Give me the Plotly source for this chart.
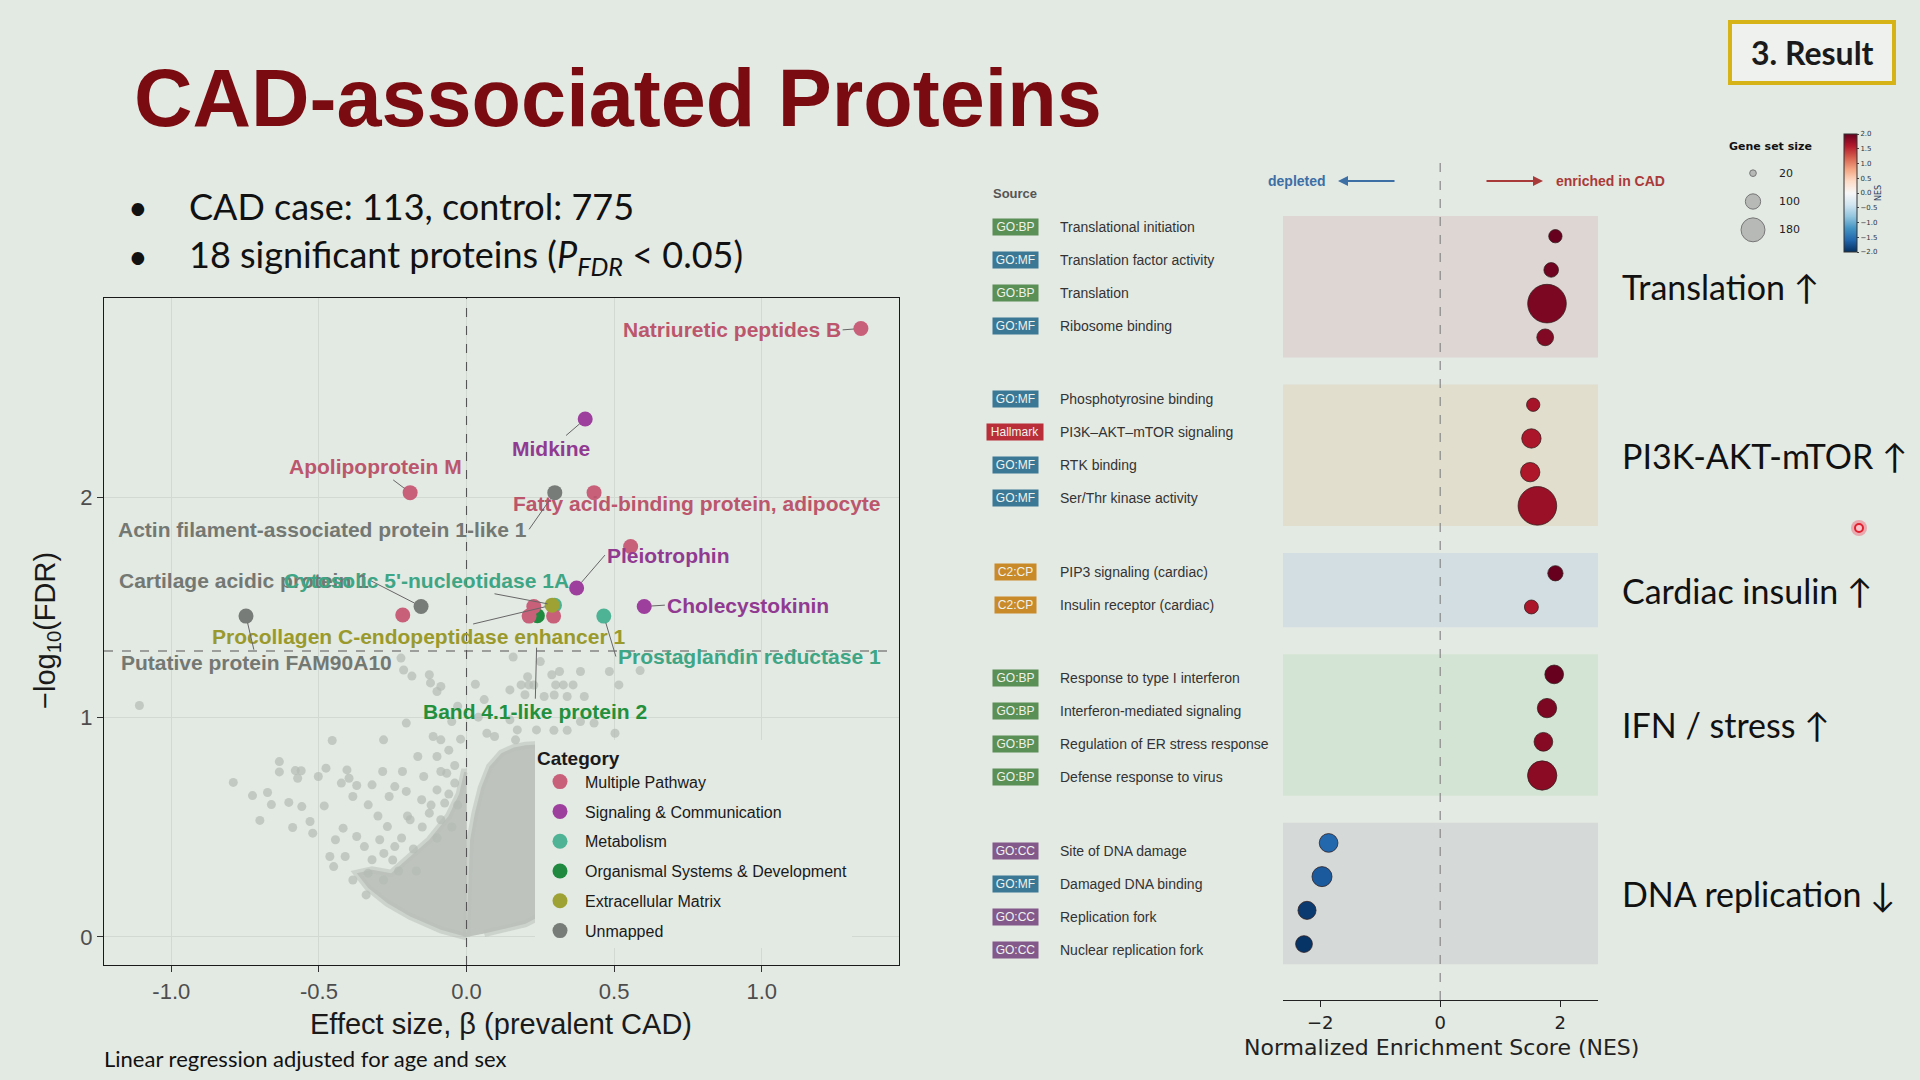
import plotly.graph_objects as go

W, H = 1920, 1080
BG = "#e3e9e3"

# ---------------- volcano plot data ----------------
categories = ["Multiple Pathway", "Signaling & Communication", "Metabolism",
              "Organismal Systems & Development", "Extracellular Matrix", "Unmapped"]
cat_colors = ["#c8607a", "#9d3f9d", "#4db394", "#1f8a3f", "#9ea234", "#787c78"]
cat_text_colors = ["#bb566d", "#913a91", "#3ea585", "#22903c", "#9a9a2c", "#737873"]
draw_order = [3, 2, 0, 1, 4, 5]  # which category is painted first

sig_protein = ["Natriuretic peptides B", "Apolipoprotein M",
               "Fatty acid-binding protein, adipocyte", "", "", "", "", "",
               "Midkine", "Pleiotrophin", "Cholecystokinin",
               "Cytosolic 5'-nucleotidase 1A", "Prostaglandin reductase 1",
               "Band 4.1-like protein 2",
               "Procollagen C-endopeptidase enhancer 1",
               "Actin filament-associated protein 1-like 1",
               "Cartilage acidic protein 1", "Putative protein FAM90A10"]
sig_beta = [1.336, -0.191, 0.432, 0.556, 0.228, 0.212, 0.295, -0.216,
            0.402, 0.373, 0.602, 0.298, 0.465, 0.240, 0.290, 0.299, -0.154, -0.747]
sig_logfdr = [2.769, 2.022, 2.022, 1.777, 1.504, 1.460, 1.460, 1.465,
              2.357, 1.588, 1.504, 1.510, 1.460, 1.462, 1.510, 2.022, 1.504, 1.460]
sig_category = ["Multiple Pathway"] * 8 + ["Signaling & Communication"] * 3 + \
               ["Metabolism"] * 2 + ["Organismal Systems & Development"] + \
               ["Extracellular Matrix"] + ["Unmapped"] * 3

# non-significant proteins: sparse points
bg_beta = [-1.108, -0.790, -0.725, -0.674, -0.661, -0.700, -0.634, -0.634, -0.602, -0.558,
           -0.589, -0.580, -0.560, -0.572, -0.530, -0.521, -0.502, -0.476, -0.482, -0.455,
           -0.444, -0.424, -0.405, -0.398, -0.418, -0.385, -0.372, -0.333, -0.320, -0.281,
           -0.284, -0.262, -0.243, -0.217, -0.204, -0.204, -0.222, -0.213, -0.185, -0.126,
           -0.122, -0.100, -0.087, -0.113, -0.087, -0.165, -0.100, -0.145, -0.087, -0.067,
           -0.191, -0.152, -0.126, -0.100, -0.074, -0.087, -0.372, -0.411, -0.346, -0.320,
           -0.333, -0.294, -0.268, -0.243, -0.385, -0.340, -0.281, -0.463, -0.450, -0.050,
           -0.030, -0.060, -0.040, -0.020, -0.250, -0.220, -0.180, -0.150, -0.120, -0.100,
           -0.060, -0.040, -0.030, -0.200, -0.280, -0.230, -0.170, -0.300, -0.050,
           0.158, 0.250, 0.315, 0.289, 0.386, 0.484, 0.516, 0.588, 0.185, 0.211,
           0.302, 0.328, 0.361, 0.147, 0.198, 0.263, 0.341, 0.399, 0.147, 0.172,
           0.237, 0.296, 0.341, 0.386, 0.432, 0.503, 0.166, 0.095, 0.069, 0.040,
           0.060, 0.030, 0.207, 0.228, 0.297]
bg_logfdr = [1.053, 0.703, 0.643, 0.657, 0.602, 0.530, 0.798, 0.751, 0.612, 0.593,
             0.498, 0.757, 0.756, 0.722, 0.525, 0.472, 0.730, 0.768, 0.596, 0.894,
             0.442, 0.700, 0.760, 0.722, 0.495, 0.639, 0.689, 0.601, 0.692, 0.897,
             0.753, 0.639, 0.684, 0.753, 0.973, 0.662, 1.269, 1.215, 1.187, 1.193,
             1.156, 1.117, 1.140, 0.912, 0.897, 0.821, 0.821, 0.730, 0.753, 0.745,
             0.533, 0.624, 0.563, 0.669, 0.609, 0.533, 0.457, 0.366, 0.411, 0.351,
             0.290, 0.442, 0.502, 0.411, 0.259, 0.191, 0.259, 0.366, 0.320, 0.980,
             1.050, 0.850, 0.700, 0.900, 0.350, 0.450, 0.400, 0.500, 0.600, 0.450,
             0.650, 0.780, 0.600, 0.550, 0.380, 0.300, 0.300, 0.550, 0.500,
             1.274, 1.253, 1.208, 1.193, 1.208, 1.208, 1.147, 1.212, 1.147, 1.147,
             1.147, 1.147, 1.147, 1.124, 1.102, 1.094, 1.094, 1.094, 0.988, 0.942,
             0.942, 0.940, 0.940, 0.980, 0.973, 0.927, 0.897, 0.912, 0.927, 1.000,
             1.080, 1.150, 1.184, 1.146, 1.101]

# outline of the dense, overlapping cloud near beta = 0
core_left_beta = [0.0, -0.087, -0.191, -0.268, -0.333, -0.372, -0.320, -0.255,
                  -0.191, -0.126, -0.061, -0.025, -0.008, 0.0]
core_left_logfdr = [0.0, 0.032, 0.093, 0.153, 0.222, 0.290, 0.305, 0.290,
                    0.366, 0.442, 0.550, 0.650, 0.750, 0.750]
core_right_beta = [0.0, 0.003, 0.007, 0.012, 0.028, 0.050, 0.078, 0.118, 0.160,
                   0.200, 0.300, 0.400, 0.400, 0.200, 0.060]
core_right_logfdr = [0.0, 0.140, 0.290, 0.440, 0.560, 0.680, 0.775, 0.836, 0.862,
                     0.872, 0.880, 0.700, 0.200, 0.060, 0.015]

x_tick_vals = [-1.0, -0.5, 0.0, 0.5, 1.0]
x_tick_text = ["-1.0", "-0.5", "0.0", "0.5", "1.0"]
y_tick_vals = [0, 1, 2]
fdr_threshold = 1.301  # -log10(0.05)

# ---------------- GSEA data ----------------
gs_term = ["Translational initiation", "Translation factor activity", "Translation",
           "Ribosome binding", "Phosphotyrosine binding", "PI3K–AKT–mTOR signaling",
           "RTK binding", "Ser/Thr kinase activity", "PIP3 signaling (cardiac)",
           "Insulin receptor (cardiac)", "Response to type I interferon",
           "Interferon-mediated signaling", "Regulation of ER stress response",
           "Defense response to virus", "Site of DNA damage", "Damaged DNA binding",
           "Replication fork", "Nuclear replication fork"]
gs_source = ["GO:BP", "GO:MF", "GO:BP", "GO:MF", "GO:MF", "Hallmark", "GO:MF", "GO:MF",
             "C2:CP", "C2:CP", "GO:BP", "GO:BP", "GO:BP", "GO:BP",
             "GO:CC", "GO:MF", "GO:CC", "GO:CC"]
gs_nes = [1.92, 1.85, 1.78, 1.75, 1.55, 1.52, 1.50, 1.62, 1.92, 1.52,
          1.90, 1.78, 1.72, 1.70, -1.86, -1.97, -2.22, -2.27]
gs_size = [20, 26, 137, 36, 20, 48, 48, 137, 29, 23, 45, 48, 45, 94, 45, 51, 42, 36]
gs_group = [0, 0, 0, 0, 1, 1, 1, 1, 2, 2, 3, 3, 3, 3, 4, 4, 4, 4]
group_label = ["Translation ↑", "PI3K-AKT-mTOR ↑", "Cardiac insulin ↑",
               "IFN / stress ↑", "DNA replication ↓"]
size_legend_vals = [20, 100, 180]
cbar_ticks = [-2.0, -1.5, -1.0, -0.5, 0.0, 0.5, 1.0, 1.5, 2.0]
nes_ticks = [-2, 0, 2]

source_colors = {"GO:BP": "#5a8f55", "GO:MF": "#3a7896", "Hallmark": "#b92e38",
                 "C2:CP": "#c98a2a", "GO:CC": "#83598b"}
badge_width = {"GO:BP": 43, "GO:MF": 43, "GO:CC": 43, "Hallmark": 54, "C2:CP": 39}
band_colors = ["#ddd6d3", "#e1decd", "#d3dee2", "#d4e4d4", "#d5d9d8"]

RDBU_R = [[0.0, "#053061"], [0.1, "#2166ac"], [0.2, "#4393c3"], [0.3, "#92c5de"],
          [0.4, "#d1e5f0"], [0.5, "#f7f7f7"], [0.6, "#fddbc7"], [0.7, "#f4a582"],
          [0.8, "#d6604d"], [0.9, "#b2182b"], [1.0, "#67001f"]]


def gene_set_diameter(v):
    return 0.108 * v + 4.5


def px(x):
    return x / W


def py(y):
    return 1 - y / H


rows = [i + g for i, g in enumerate(gs_group)]
# the term list on the left was laid out on its own grid (pixels from the top)
label_rows_px = [226.5 + 33.06 * i + 40.4 * g for i, g in enumerate(gs_group)]

fig = go.Figure()

# ---------- volcano ----------
for bx, by in [(core_left_beta, core_left_logfdr), (core_right_beta, core_right_logfdr)]:
    fig.add_trace(go.Scatter(x=bx, y=by, mode="lines", fill="toself",
                             line=dict(color="rgba(186,191,186,0.55)", width=7),
                             fillcolor="rgba(188,193,188,0.95)",
                             hoverinfo="skip", showlegend=False))
fig.add_trace(go.Scatter(x=bg_beta, y=bg_logfdr, mode="markers",
                         marker=dict(size=9, color="rgba(180,186,180,0.7)"),
                         hoverinfo="skip", showlegend=False))

for k in draw_order:
    cat, col = categories[k], cat_colors[k]
    idx = [i for i, c in enumerate(sig_category) if c == cat]
    fig.add_trace(go.Scatter(
        x=[sig_beta[i] for i in idx], y=[sig_logfdr[i] for i in idx],
        mode="markers", name=cat, legendgroup=cat, legendrank=k + 1,
        marker=dict(size=15, color=col, opacity=1),
        text=[sig_protein[i] for i in idx], hoverinfo="text"))

# label placement (x, y of the label anchor, anchored side, gap at the point end)
label_pos = {
    "Cartilage acidic protein 1": (-0.324, 1.621, "right", 7),
    "Natriuretic peptides B": (1.274, 2.763, "right", 7),
    "Apolipoprotein M": (-0.307, 2.139, "center", 7),
    "Fatty acid-binding protein, adipocyte": (0.780, 1.972, "center", 7),
    "Midkine": (0.286, 2.223, "center", 7),
    "Pleiotrophin": (0.469, 1.738, "left", 7),
    "Cholecystokinin": (0.672, 1.510, "left", 7),
    "Cytosolic 5'-nucleotidase 1A": (-0.137, 1.621, "center", 7),
    "Prostaglandin reductase 1": (0.506, 1.276, "left", 7),
    "Band 4.1-like protein 2": (0.232, 1.025, "center", 32),
    "Procollagen C-endopeptidase enhancer 1": (-0.162, 1.365, "center", 7),
    "Actin filament-associated protein 1-like 1": (0.212, 1.855, "right", 7),
    "Putative protein FAM90A10": (-0.710, 1.248, "center", 7),
}

annotations = []
for name, (lx, ly, anc, gap) in label_pos.items():
    i = sig_protein.index(name)
    tcol = cat_text_colors[categories.index(sig_category[i])]
    annotations.append(dict(
        x=sig_beta[i], y=sig_logfdr[i], xref="x", yref="y",
        ax=lx, ay=ly, axref="x", ayref="y", xanchor=anc, yanchor="middle",
        text=name, showarrow=True, arrowhead=0, arrowwidth=1, arrowcolor="#666",
        standoff=gap, font=dict(family="Liberation Sans", size=21, color=tcol,
                                weight="bold")))

shapes = [
    dict(type="line", xref="x", yref="y domain", x0=0, x1=0, y0=0, y1=1,
         line=dict(color="#555", width=1.1, dash="dash"), layer="above"),
    dict(type="line", xref="x domain", yref="y", x0=0, x1=0.99, y0=fdr_threshold,
         y1=fdr_threshold, line=dict(color="#555", width=1.1, dash="dash"), layer="above"),
]

# ---------- GSEA ----------
for g in range(len(group_label)):
    r = [rows[i] for i in range(len(rows)) if gs_group[i] == g]
    shapes.append(dict(type="rect", xref="x2 domain", yref="y2", x0=0, x1=1,
                       y0=min(r) - 0.6, y1=max(r) + 0.6, fillcolor=band_colors[g],
                       line=dict(width=0), layer="below"))
    annotations.append(dict(x=px(1620), y=sum(r) / len(r), xref="paper", yref="y2",
                            xanchor="left", yanchor="middle", showarrow=False,
                            text=group_label[g],
                            font=dict(family="Lato", size=34, color="#111")))
shapes.append(dict(type="line", xref="x2", yref="y2 domain", x0=0, x1=0, y0=0, y1=1,
                   line=dict(color="#888", width=1.2, dash="dash"), layer="above"))

fig.add_trace(go.Scatter(
    x=gs_nes, y=rows, xaxis="x2", yaxis="y2", mode="markers", showlegend=False,
    marker=dict(size=[2 * gene_set_diameter(v) for v in gs_size], color=gs_nes,
                colorscale=RDBU_R, cmin=-2.3, cmax=1.9, opacity=1,
                line=dict(width=1, color="rgba(50,30,30,0.75)")),
    text=gs_term, hoverinfo="text"))
# colour bar carrier
fig.add_trace(go.Scatter(x=[0], y=[0], xaxis="x2", yaxis="y2", mode="markers",
                         marker=dict(color=[0], coloraxis="coloraxis", opacity=0, size=1),
                         showlegend=False, hoverinfo="skip"))

for i, term in enumerate(gs_term):
    src = gs_source[i]
    annotations.append(dict(x=px(1015), y=py(label_rows_px[i]), xref="paper", yref="paper",
                            xanchor="center", yanchor="middle", showarrow=False,
                            text=src, bgcolor=source_colors[src], borderpad=1,
                            width=badge_width[src],
                            font=dict(family="Liberation Sans", size=12, color="#eef3ee")))
    annotations.append(dict(x=px(1058), y=py(label_rows_px[i]), xref="paper", yref="paper",
                            xanchor="left", yanchor="middle", showarrow=False, text=term,
                            font=dict(family="Liberation Sans", size=14, color="#333")))

annotations += [
    dict(x=px(1015), y=py(194), xref="paper", yref="paper", xanchor="center",
         yanchor="middle", showarrow=False, text="Source",
         font=dict(family="Liberation Sans", size=13, color="#555", weight="bold")),
    dict(x=px(1297), y=py(181), xref="paper", yref="paper", xanchor="center",
         yanchor="middle", showarrow=False, text="depleted",
         font=dict(family="Liberation Sans", size=14, color="#3d6fa5", weight="bold")),
    dict(x=px(1338), y=py(181), xref="paper", yref="paper", text="", showarrow=True,
         ax=58, ay=0, axref="pixel", ayref="pixel", arrowhead=2, arrowsize=1,
         arrowwidth=2, arrowcolor="#3d6fa5"),
    dict(x=px(1543), y=py(181), xref="paper", yref="paper", text="", showarrow=True,
         ax=-58, ay=0, axref="pixel", ayref="pixel", arrowhead=2, arrowsize=1,
         arrowwidth=2, arrowcolor="#a93a3a"),
    dict(x=px(1554), y=py(181), xref="paper", yref="paper", xanchor="left",
         yanchor="middle", showarrow=False, text="enriched in CAD",
         font=dict(family="Liberation Sans", size=14, color="#a93a3a", weight="bold")),
    dict(x=px(1441), y=py(1047), xref="paper", yref="paper", xanchor="center",
         yanchor="middle", showarrow=False, text="Normalized Enrichment Score (NES)",
         font=dict(family="DejaVu Sans", size=22, color="#222")),
]

# gene set size legend
fig.add_trace(go.Scatter(
    x=[0] * len(size_legend_vals), y=list(range(len(size_legend_vals))),
    xaxis="x3", yaxis="y3", mode="markers", showlegend=False, hoverinfo="skip",
    marker=dict(size=[gene_set_diameter(v) for v in size_legend_vals], color="#b6b9b6",
                opacity=1, line=dict(width=1, color="#777"))))
for k, v in enumerate(size_legend_vals):
    annotations.append(dict(x=px(1777), y=k, xref="paper", yref="y3", xanchor="left",
                            yanchor="middle", showarrow=False, text=str(v),
                            font=dict(family="DejaVu Sans", size=11, color="#222")))
annotations.append(dict(x=px(1770), y=py(146), xref="paper", yref="paper", xanchor="center",
                        yanchor="middle", showarrow=False, text="Gene set size",
                        font=dict(family="DejaVu Sans", size=11, color="#111", weight="bold")))

# ---------- slide texts ----------
annotations += [
    dict(x=px(132), y=py(98), xref="paper", yref="paper", xanchor="left", yanchor="middle",
         showarrow=False, text="CAD-associated Proteins",
         font=dict(family="Liberation Sans", size=81, color="#7a0b10", weight="bold")),
    dict(x=px(138), y=py(206), xref="paper", yref="paper", xanchor="center",
         yanchor="middle", showarrow=False, text="•",
         font=dict(family="Lato", size=34, color="#111")),
    dict(x=px(138), y=py(255), xref="paper", yref="paper", xanchor="center",
         yanchor="middle", showarrow=False, text="•",
         font=dict(family="Lato", size=34, color="#111")),
    dict(x=px(187), y=py(206), xref="paper", yref="paper", xanchor="left", yanchor="middle",
         showarrow=False, text="CAD case: 113, control: 775",
         font=dict(family="Lato", size=36, color="#111")),
    dict(x=px(187), y=py(257), xref="paper", yref="paper", xanchor="left", yanchor="middle",
         showarrow=False,
         text="18 significant proteins (<i>P</i><sub><i>FDR</i></sub> &lt; 0.05)",
         font=dict(family="Lato", size=36, color="#111")),
    dict(x=px(1812), y=py(53), xref="paper", yref="paper", xanchor="center",
         yanchor="middle", showarrow=False, text="3. Result",
         font=dict(family="Lato", size=32, color="#1a1a1a", weight="bold")),
    dict(x=px(501), y=py(1024), xref="paper", yref="paper", xanchor="center",
         yanchor="middle", showarrow=False, text="Effect size, β (prevalent CAD)",
         font=dict(family="Liberation Sans", size=29, color="#1a1a1a")),
    dict(x=px(47), y=py(631), xref="paper", yref="paper", xanchor="center",
         yanchor="middle", showarrow=False, textangle=-90,
         text="−log<sub>10</sub>(FDR)",
         font=dict(family="Liberation Sans", size=29, color="#1a1a1a")),
    dict(x=px(102), y=py(1058), xref="paper", yref="paper", xanchor="left",
         yanchor="middle", showarrow=False,
         text="Linear regression adjusted for age and sex",
         font=dict(family="Lato", size=22, color="#111")),
]

shapes += [
    dict(type="rect", xref="paper", yref="paper", x0=px(1730), x1=px(1894),
         y0=py(83), y1=py(22), fillcolor="#eef1ee", line=dict(color="#d6b316", width=4)),
    dict(type="circle", xref="paper", yref="paper", x0=px(1851), x1=px(1867),
         y0=py(536), y1=py(520), fillcolor="rgba(240,90,110,0.45)", line=dict(width=0)),
    dict(type="circle", xref="paper", yref="paper", x0=px(1855), x1=px(1863),
         y0=py(532), y1=py(524), fillcolor="#f7c6cc", line=dict(color="#e0202e", width=2)),
]

axis_font = dict(family="Liberation Sans", size=22, color="#4d4d4d")
fig.update_layout(
    width=W, height=H, margin=dict(l=0, r=0, t=0, b=0),
    paper_bgcolor=BG, plot_bgcolor=BG,
    xaxis=dict(domain=[px(104), px(899)], range=[-1.228, 1.465], anchor="y",
               tickvals=x_tick_vals, ticktext=x_tick_text, tickfont=axis_font,
               showgrid=True, gridcolor="#d2d8d2", zeroline=False, showline=True,
               mirror=True, linecolor="#1a1a1a", linewidth=1.3, ticks="outside",
               ticklen=6, tickcolor="#333"),
    yaxis=dict(domain=[py(965), py(298)], range=[-0.128, 2.908], anchor="x",
               tickvals=y_tick_vals, tickfont=axis_font,
               showgrid=True, gridcolor="#d2d8d2", zeroline=False, showline=True,
               mirror=True, linecolor="#1a1a1a", linewidth=1.3, ticks="outside",
               ticklen=6, tickcolor="#333"),
    xaxis2=dict(domain=[px(1283), px(1598)], range=[-2.62, 2.63], anchor="y2",
                tickvals=nes_ticks, showgrid=False, zeroline=False, showline=True,
                linecolor="#222", linewidth=1.2, ticks="outside", ticklen=6,
                tickcolor="#222", tickfont=dict(family="DejaVu Sans", size=18, color="#222")),
    yaxis2=dict(domain=[py(1000), py(157)], range=[22.66, -2.35], anchor="x2",
                visible=False),
    xaxis3=dict(domain=[px(1723), px(1783)], range=[-1, 1], anchor="y3", visible=False),
    yaxis3=dict(domain=[py(244), py(159)], range=[2.5, -0.5], anchor="x3", visible=False),
    coloraxis=dict(colorscale=RDBU_R, cmin=-2, cmax=2,
                   colorbar=dict(x=px(1844), xanchor="left", y=py(193), yanchor="middle",
                                 len=118, lenmode="pixels", thickness=13,
                                 outlinewidth=1, outlinecolor="#333", xpad=0, ypad=0,
                                 tickvals=cbar_ticks, tickformat=".1f", ticks="outside",
                                 ticklen=2, tickfont=dict(family="DejaVu Sans", size=7,
                                                          color="#333"),
                                 title=dict(text="NES", side="right",
                                            font=dict(family="DejaVu Sans", size=8)))),
    legend=dict(x=px(535), y=py(740), xanchor="left", yanchor="top", bgcolor=BG,
                font=dict(family="Liberation Sans", size=16, color="#1a1a1a"),
                title=dict(text="<b>Category</b>", font=dict(size=19)),
                itemwidth=40, tracegroupgap=6, traceorder="grouped", itemsizing="trace"),
    annotations=annotations, shapes=shapes, hovermode="closest",
)

fig.write_html("out.html", config={"displayModeBar": False},
               post_script="document.body.style.margin='0';")
